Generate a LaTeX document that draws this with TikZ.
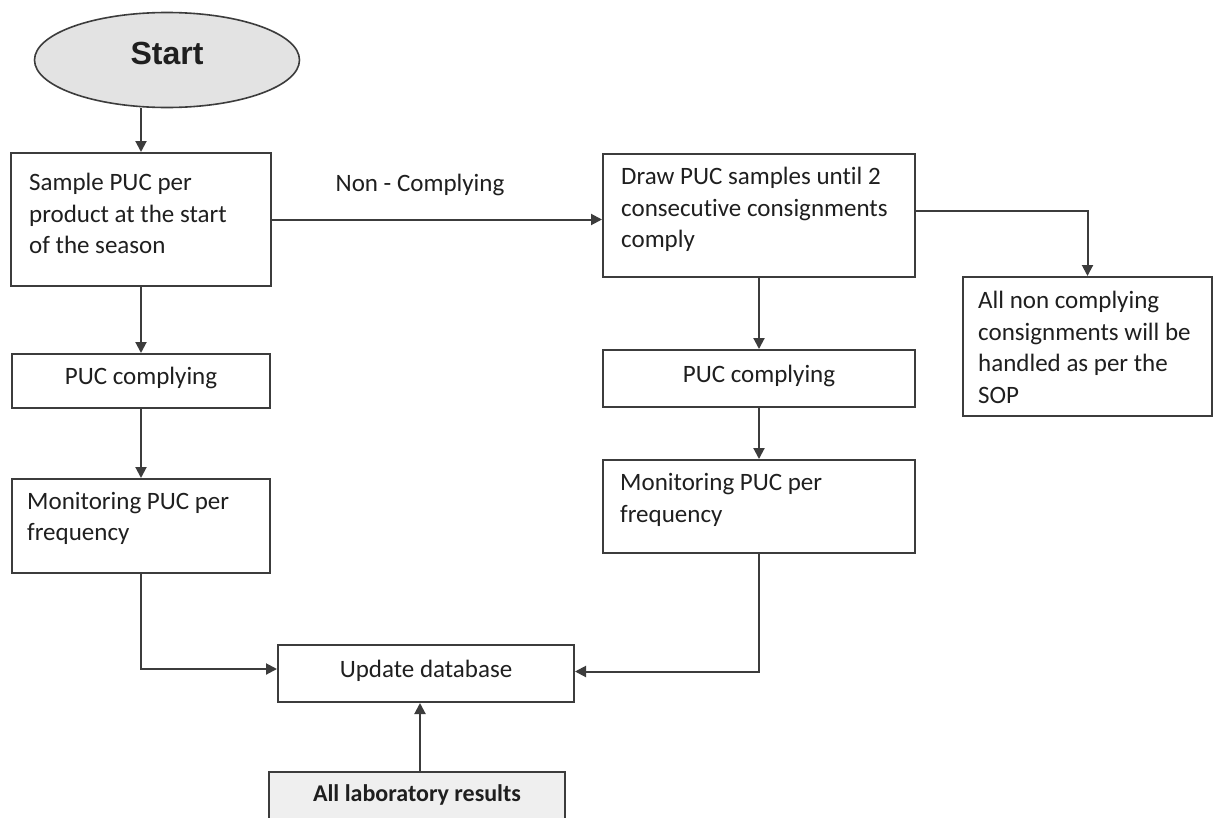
\documentclass[tikz,border=0pt]{standalone}
\usepackage{fontspec}
\setmainfont[Ligatures=NoCommon]{Carlito}
\newfontfamily\startfont{Liberation Sans}
\usetikzlibrary{shapes.geometric,arrows.meta}
\definecolor{ln}{HTML}{3C3C3C}
\definecolor{startfill}{HTML}{E3E3E3}
\definecolor{labfill}{HTML}{EFEFEF}
\begin{document}
\begin{tikzpicture}[x=1pt,y=-1pt,
  box/.style={draw=ln, line width=2pt, rectangle, inner sep=0pt},
  txt/.style={inner sep=0pt, align=left, font=\fontsize{25}{31.5}\selectfont, text=black!88},
  arr/.style={draw=ln, line width=2pt, -{Triangle[length=11pt,width=11pt]}},
  ]
\clip (0,0) rectangle (1213,817);
\fill[white] (0,0) rectangle (1213,817);
% start
\node[ellipse, draw=ln, line width=1.6pt, fill=startfill, minimum width=265, minimum height=95, inner sep=0pt] (start) at (167,60) {};
\node[inner sep=0pt, font=\startfont\bfseries\fontsize{32}{32}\selectfont, text=black!88] (startt) at ([yshift=7pt]start.center) {Start};
% left column
\node[box, minimum width=260, minimum height=133] (box1) at (141,219.5) {};
\node[txt, anchor=west] (box1t) at ([xshift=19pt,yshift=6pt]box1.west) {Sample PUC per\\product at the start\\of the season};
\node[box, minimum width=258, minimum height=54] (puc1) at (141,381) {};
\node[txt] (puc1t) at ([yshift=3pt]puc1.center) {PUC complying};
\node[box, minimum width=258, minimum height=94] (mon1) at (141,526) {};
\node[txt, anchor=west] (mon1t) at ([xshift=16pt,yshift=7.5pt]mon1.west) {Monitoring PUC per\\frequency};
% right column
\node[box, minimum width=312, minimum height=123] (box2) at (759,215.5) {};
\node[txt, anchor=west] (box2t) at ([xshift=19pt,yshift=6pt]box2.west) {Draw PUC samples until 2\\consecutive consignments\\comply};
\node[box, minimum width=312, minimum height=57] (puc2) at (759,378.5) {};
\node[txt] (puc2t) at ([yshift=3pt]puc2.center) {PUC complying};
\node[box, minimum width=312, minimum height=93] (mon2) at (759,506.5) {};
\node[txt, anchor=west] (mon2t) at ([xshift=18pt,yshift=6.5pt]mon2.west) {Monitoring PUC per\\frequency};
\node[box, minimum width=249, minimum height=139] (box3) at (1087.5,346.5) {};
\node[txt, anchor=west] (box3t) at ([xshift=16pt,yshift=-1pt]box3.west) {All non complying\\consignments will be\\handled as per the\\SOP};
% bottom
\node[box, minimum width=296, minimum height=57] (upd) at (426,673.5) {};
\node[txt] (updt) at ([yshift=3pt]upd.center) {Update database};
\node[box, fill=labfill, minimum width=296, minimum height=60] (lab) at (417,802) {};
\node[txt, font=\fontsize{24}{28}\selectfont\bfseries] (labt) at (417,795) {All laboratory results};
% label
\node[txt] (nc) at (420,185) {Non - Complying};
% connectors
\draw[arr] (start.south -| box1.north) -- (box1.north);
\draw[arr] (box1.south) -- (puc1.north);
\draw[arr] (puc1.south) -- (mon1.north);
\draw[arr] (box1.east) -- (box1.east -| box2.west);
\draw[arr] (box2.south) -- (puc2.north);
\draw[arr] (puc2.south) -- (mon2.north);
\draw[arr] ([yshift=4.5pt]box2.east) -| (box3.north);
\draw[arr] (mon1.south) |- ([yshift=4.5pt]upd.west);
\draw[arr] (mon2.south) |- ([yshift=2pt]upd.east);
\draw[arr] ([xshift=3pt]lab.north) -- ([xshift=3pt]lab.north |- upd.south);
\end{tikzpicture}
\end{document}
